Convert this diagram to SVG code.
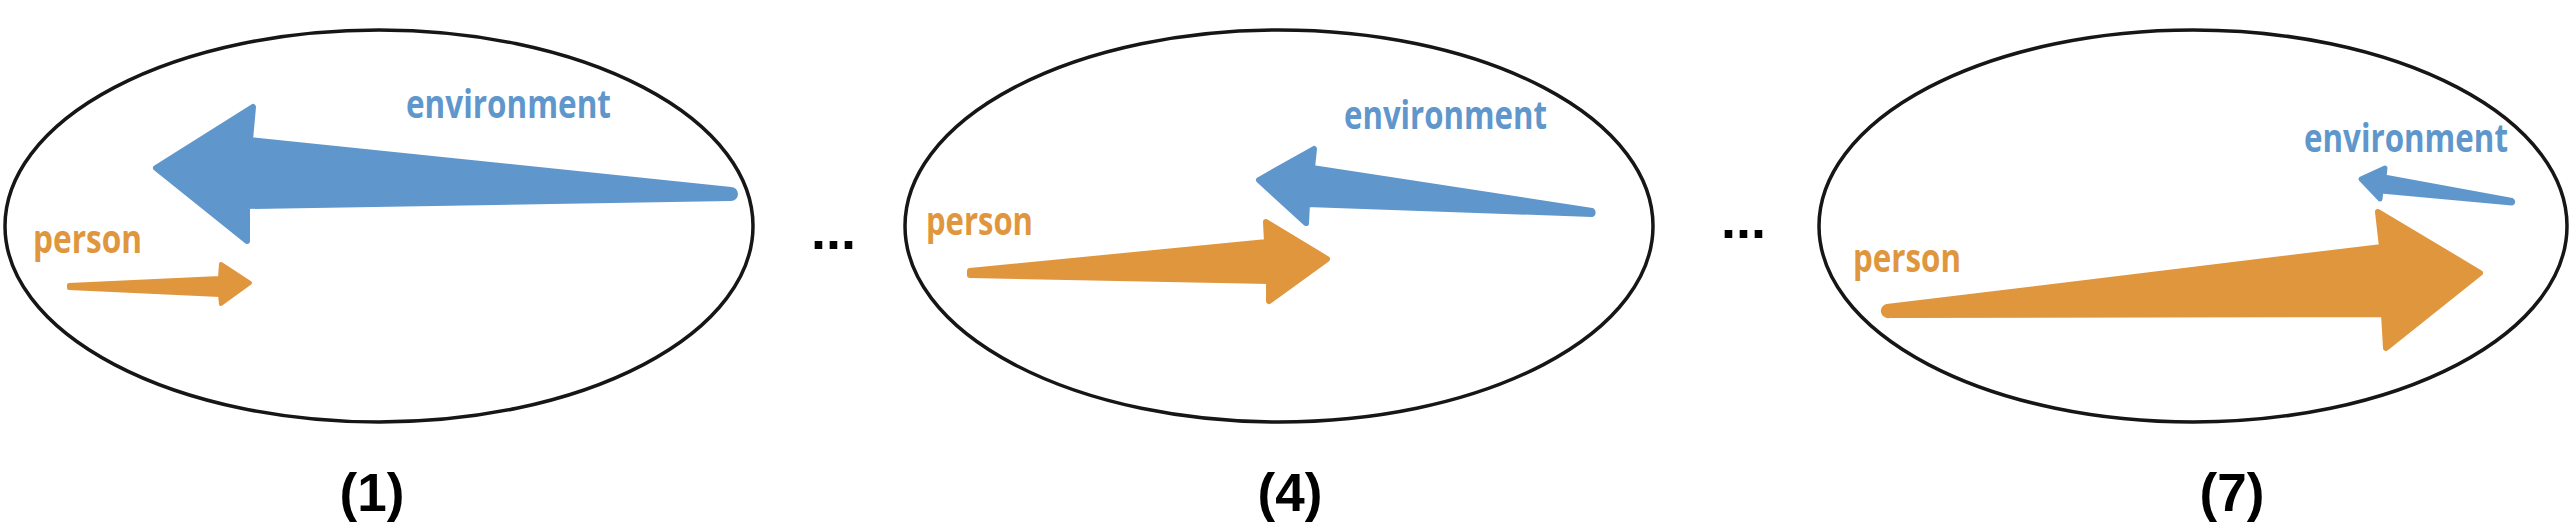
<svg xmlns="http://www.w3.org/2000/svg" width="2572" height="526" viewBox="0 0 2572 526">
<style>
.ell{fill:none;stroke:#161616;stroke-width:3.5}
.blue{fill:#5F97CC;stroke:#5F97CC;stroke-width:6;stroke-linejoin:round}
.orange{fill:#E0963D;stroke:#E0963D;stroke-width:6;stroke-linejoin:round}
.lbl{font-family:"Open Sans","Liberation Sans",sans-serif;font-weight:700;font-size:40px}
.env{fill:#5F97CC}
.per{fill:#E0963D}
.cap{font-family:"Liberation Sans",Arial,sans-serif;font-weight:700;font-size:53px;fill:#000;text-anchor:middle}
.dots{font-family:"Liberation Sans",Arial,sans-serif;font-weight:700;font-size:54px;fill:#000}
</style>
<rect width="2572" height="526" fill="#fff"/>
<g id="panel1">
<ellipse class="ell" cx="379" cy="226" rx="374" ry="196"/>
<text class="lbl env" x="406" y="118" textLength="205" lengthAdjust="spacingAndGlyphs">environment</text>
<text class="lbl per" x="33" y="253" textLength="109" lengthAdjust="spacingAndGlyphs">person</text>
<text class="cap" x="372" y="511">(1)</text>
</g>
<g id="panel2">
<ellipse class="ell" cx="1279" cy="226" rx="374" ry="196"/>
<text class="lbl env" x="1344" y="129" textLength="203" lengthAdjust="spacingAndGlyphs">environment</text>
<text class="lbl per" x="926" y="235" textLength="107" lengthAdjust="spacingAndGlyphs">person</text>
<text class="cap" x="1290" y="511">(4)</text>
</g>
<g id="panel3">
<ellipse class="ell" cx="2193" cy="226" rx="374" ry="196"/>
<text class="lbl env" x="2304" y="152" textLength="204" lengthAdjust="spacingAndGlyphs">environment</text>
<text class="lbl per" x="1853" y="272" textLength="108" lengthAdjust="spacingAndGlyphs">person</text>
<text class="cap" x="2232" y="511">(7)</text>
</g>
<g id="ellipsis">
<text class="dots" x="811" y="249">...</text>
<text class="dots" x="1721" y="238">...</text>
</g>
<g id="connectors">
<path class="blue" d="M156,168 L253,107 L250,140 L731,190 A4,4 0 0 1 731,198 L247,206 L247,241 Z"/>
<path class="orange" style="stroke-width:4" d="M69,285 L220,278 L221,264 L250,283 L221,304 L220,295 L69,288 Z"/>
<path class="blue" d="M1259,180 L1314,149 L1312,168 L1592,211 A2,2 0 0 1 1592,214 L1307,204 L1306,223 Z"/>
<path class="orange" d="M970,271 L1267,242 L1266,222 L1327,259 L1269,301 L1269,281 L970,275 Z"/>
<path class="blue" style="stroke-width:5" d="M2361,179 L2385,168 L2384,177 L2512,200.5 A1.5,1.5 0 0 1 2512,203 L2381,191 L2380,199 Z"/>
<path class="orange" d="M1887,307 L2382,247 L2378,212 L2480,273 L2386,348 L2384,314 L1889,315 A4,4 0 0 1 1887,307 Z"/>
</g>
</svg>
